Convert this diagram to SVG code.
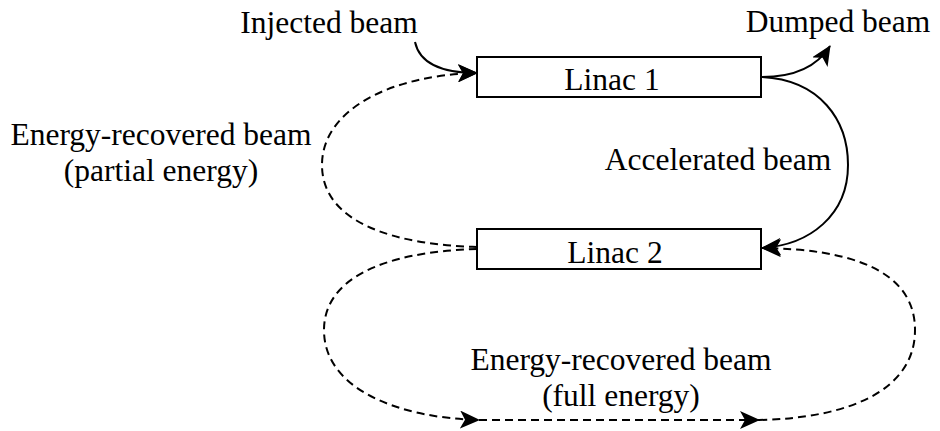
<svg xmlns="http://www.w3.org/2000/svg" width="940" height="431" viewBox="0 0 940 431">
<style>
.box{fill:#fff;stroke:#000;stroke-width:2}
.t{font-family:'Liberation Serif','Times New Roman','DejaVu Serif',serif;font-size:31.5px;fill:#000;text-anchor:middle}
.e{fill:none;stroke:#000;stroke-width:2}
.d{stroke-dasharray:8 5}
.a{marker-end:url(#arr)}
</style>
<defs>
<marker id="arr" markerUnits="userSpaceOnUse" viewBox="0 0 20 18" markerWidth="20" markerHeight="18" refX="19" refY="9" orient="auto">
<path d="M0,0 L20,9 L0,18 L5,9 Z" fill="#000"/>
</marker>
</defs>
<rect width="940" height="431" fill="#fff"/>
<g id="connectors">
<path class="e a" d="M415,42 C420,65 445,73 477,73"/>
<path class="e a" d="M762,77 C790,77 815,70 830,46"/>
<path class="e a" d="M762,77 C820,80 848,120 848,165 C848,215 810,245 762,248"/>
<path class="e d a" d="M477,247 C400,245 322,225 322,165 C322,110 390,75 477,73"/>
<path class="e d a" d="M477,249 C380,252 324,280 324,330 C324,390 400,418 479,420"/>
<path class="e d a" d="M479,420 L759,420"/>
<path class="e d a" d="M759,420 C850,418 915,390 915,330 C915,270 850,249 762,248"/>
</g>
<g id="linac1">
<rect class="box" x="477" y="57" width="284" height="40"/>
<text class="t" x="612" y="90">Linac 1</text>
</g>
<g id="linac2">
<rect class="box" x="477" y="229" width="284" height="40"/>
<text class="t" x="615" y="263">Linac 2</text>
</g>
<g id="labels">
<text class="t" x="329" y="33">Injected beam</text>
<text class="t" x="838" y="32">Dumped beam</text>
<text class="t" x="718" y="170">Accelerated beam</text>
<text class="t" x="161" y="145">Energy-recovered beam</text>
<text class="t" x="161" y="181">(partial energy)</text>
<text class="t" x="621" y="370">Energy-recovered beam</text>
<text class="t" x="621" y="406">(full energy)</text>
</g>
</svg>
